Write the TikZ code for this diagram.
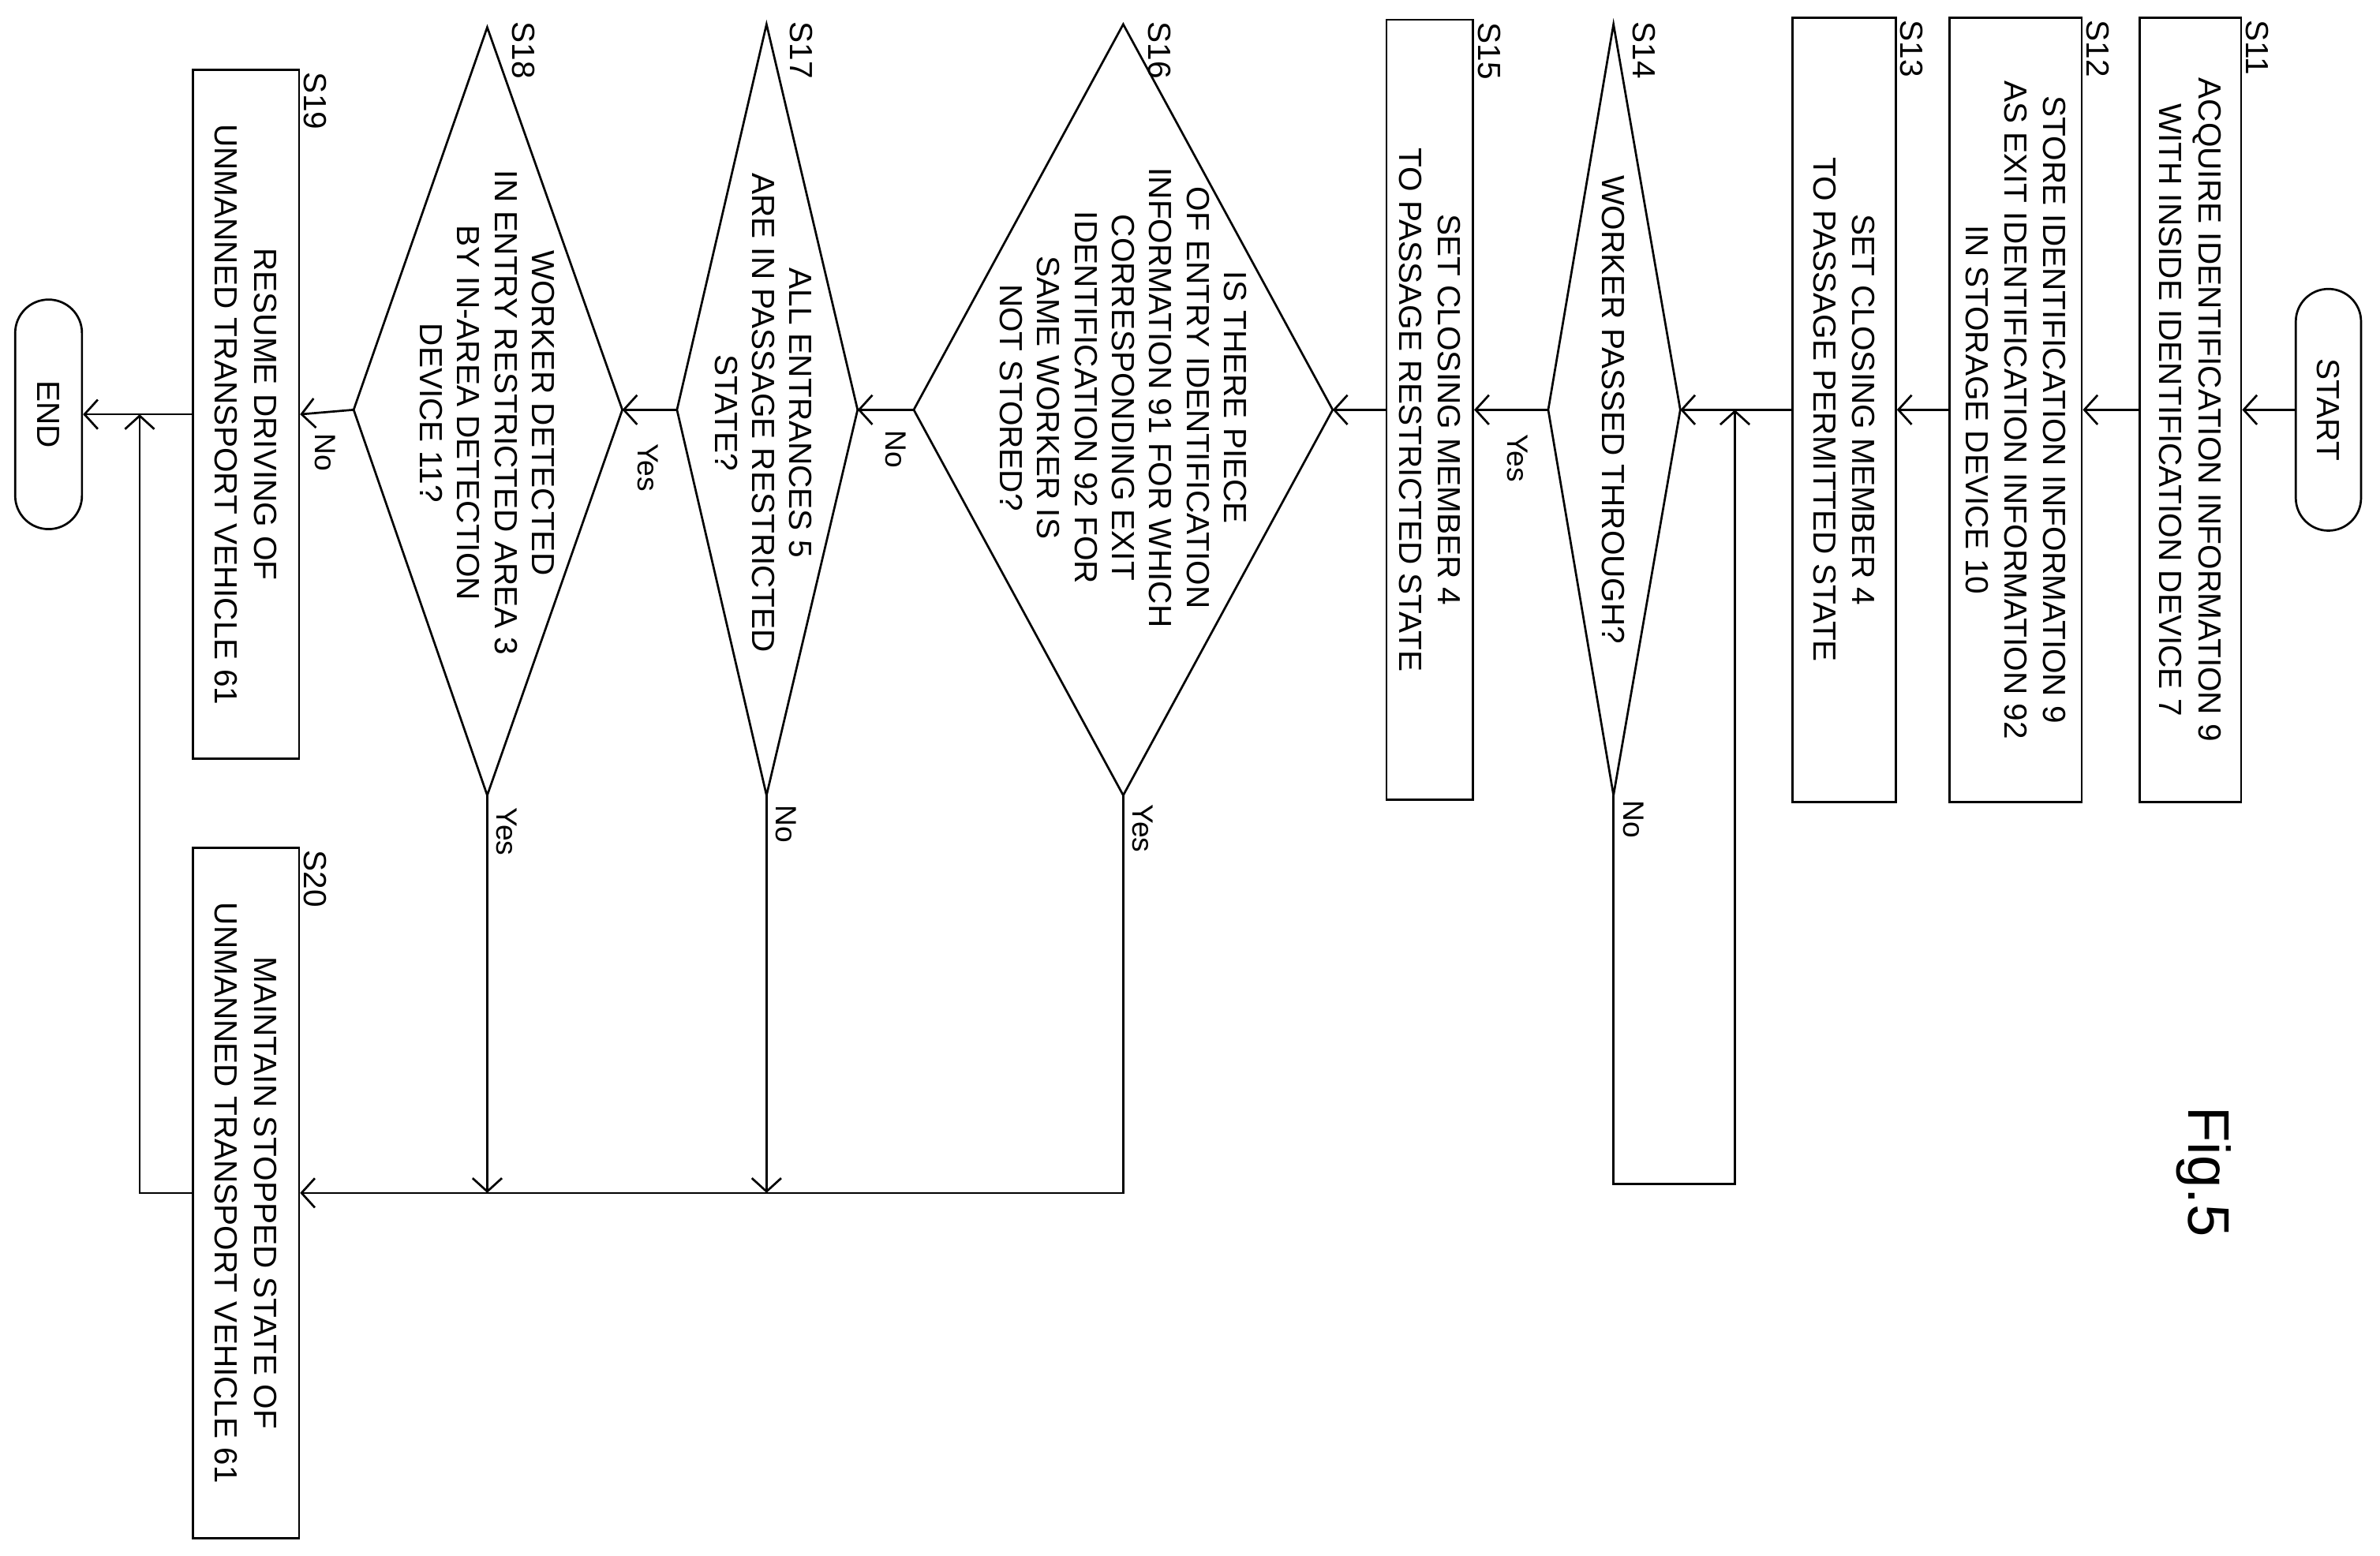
\documentclass[tikz,border=0pt]{standalone}
\usepackage{fontspec}
\setmainfont{Liberation Sans}
\usetikzlibrary{arrows.meta,shapes.misc}

\tikzset{
  stepbox/.style={draw,rotate=-90,align=center,inner sep=2pt,
    font=\fontsize{12}{14.6}\selectfont},
  terminal/.style={draw,rounded rectangle,rotate=-90,font=\fontsize{12}{14}\selectfont},
  qtext/.style={rotate=-90,align=center,inner sep=0pt,font=\fontsize{12}{14}\selectfont},
  steplabel/.style={rotate=-90,anchor=south west,inner sep=1pt,font=\fontsize{12}{14}\selectfont},
  branch/.style={rotate=-90,inner sep=1pt,font=\fontsize{11}{13}\selectfont},
}

\begin{document}
\begin{tikzpicture}[x=0.02cm,y=-0.02cm,line width=0.8pt,
    >={Straight Barb[length=5pt,width=11pt]}]
    \useasboundingbox (0,0) rectangle (1568,1025);

    % terminals and process steps
    \node[terminal,minimum width=3.42cm,minimum height=0.86cm] (start) at (1534,270) {START};
    \node[stepbox,minimum width=10.34cm,minimum height=1.34cm] (s11) at (1443,270)
      {ACQUIRE IDENTIFICATION INFORMATION 9\\WITH INSIDE IDENTIFICATION DEVICE 7};
    \node[stepbox,minimum width=10.34cm,minimum height=1.74cm] (s12) at (1328,270)
      {STORE IDENTIFICATION INFORMATION 9\\AS EXIT IDENTIFICATION INFORMATION 92\\IN STORAGE DEVICE 10};
    \node[stepbox,minimum width=10.34cm,minimum height=1.36cm] (s13) at (1215,270)
      {SET CLOSING MEMBER 4\\TO PASSAGE PERMITTED STATE};
    \node[stepbox,minimum width=10.28cm,minimum height=1.14cm] (s15) at (942,270)
      {SET CLOSING MEMBER 4\\TO PASSAGE RESTRICTED STATE};
    \node[stepbox,minimum width=9.08cm,minimum height=1.4cm] (s19) at (162,273)
      {RESUME DRIVING OF\\UNMANNED TRANSPORT VEHICLE 61};
    \node[stepbox,minimum width=9.1cm,minimum height=1.4cm] (s20) at (162,786)
      {MAINTAIN STOPPED STATE OF\\UNMANNED TRANSPORT VEHICLE 61};
    \node[terminal,minimum width=3.26cm,minimum height=0.88cm] (end) at (32,273) {END};

    % decisions
    \coordinate (d14r) at (1107,270); \coordinate (d14l) at (1020,270);
    \coordinate (d14t) at (1063,16);  \coordinate (d14b) at (1063,524);
    \coordinate (d16r) at (878,270);  \coordinate (d16l) at (602,270);
    \coordinate (d16t) at (740,16);   \coordinate (d16b) at (740,524);
    \coordinate (d17r) at (565,270);  \coordinate (d17l) at (446,270);
    \coordinate (d17t) at (505,16);   \coordinate (d17b) at (505,524);
    \coordinate (d18r) at (410,270);  \coordinate (d18l) at (233,270);
    \coordinate (d18t) at (321,18);   \coordinate (d18b) at (321,524);
    \foreach \d in {d14,d16,d17,d18}
      \draw (\d r) -- (\d t) -- (\d l) -- (\d b) -- cycle;
    \node[qtext] (q14) at (1063,270) {WORKER PASSED THROUGH?};
    \node[qtext] (q16) at (740,262) {IS THERE PIECE\\OF ENTRY IDENTIFICATION\\INFORMATION 91 FOR WHICH\\CORRESPONDING EXIT\\IDENTIFICATION 92 FOR\\SAME WORKER IS\\NOT STORED?};
    \node[qtext] (q17) at (503,272) {ALL ENTRANCES 5\\ARE IN PASSAGE RESTRICTED\\STATE?};
    \node[qtext] (q18) at (321,272) {WORKER DETECTED\\IN ENTRY RESTRICTED AREA 3\\BY IN-AREA DETECTION\\DEVICE 11?};

    % step numbers
    \node[steplabel] at (s11.north west) {S11};
    \node[steplabel] at (s12.north west) {S12};
    \node[steplabel] at (s13.north west) {S13};
    \node[steplabel] at (1073,12) {S14};
    \node[steplabel] at (s15.north west) {S15};
    \node[steplabel] at (754,12) {S16};
    \node[steplabel] at (518,12) {S17};
    \node[steplabel] at (335,12) {S18};
    \node[steplabel] at (s19.north west) {S19};
    \node[steplabel] at (s20.north west) {S20};

    % connectors
    \coordinate (j14) at (1143,270);
    \coordinate (loop14) at (1143,780);
    \coordinate (j20) at (92,273);
    \draw[->] (start.south) -- (s11.north);
    \draw[->] (s11.south) -- (s12.north);
    \draw[->] (s12.south) -- (s13.north);
    \draw[->] (s13.south) -- (d14r);
    \draw[->] (d14l) -- (s15.north);
    \draw[->] (d14b) |- (loop14) -- (j14);
    \draw[->] (s15.south) -- (d16r);
    \draw[->] (d16l) -- (d17r);
    \draw[->] (d17l) -- (d18r);
    \draw[->] (d18l) -- (s19.north);
    \draw[->] (s19.south) -- (end.north);
    \draw[->] (d16b) |- (s20.north);
    \draw[->] (d17b) -- (d17b |- s20.north);
    \draw[->] (d18b) -- (d18b |- s20.north);
    \draw[->] (s20.south) -| (j20);

    % branch labels
    \node[branch] at (1000,302) {Yes};
    \node[branch] at (1076,540) {No};
    \node[branch] at (590,296) {No};
    \node[branch] at (753,546) {Yes};
    \node[branch] at (427,308) {Yes};
    \node[branch] at (518,543) {No};
    \node[branch] at (214,298) {No};
    \node[branch] at (334,548) {Yes};

    % figure title
    \node[rotate=-90,font=\fontsize{22}{24}\selectfont] (fig) at (1452,772) {Fig.5};
\end{tikzpicture}
\end{document}
